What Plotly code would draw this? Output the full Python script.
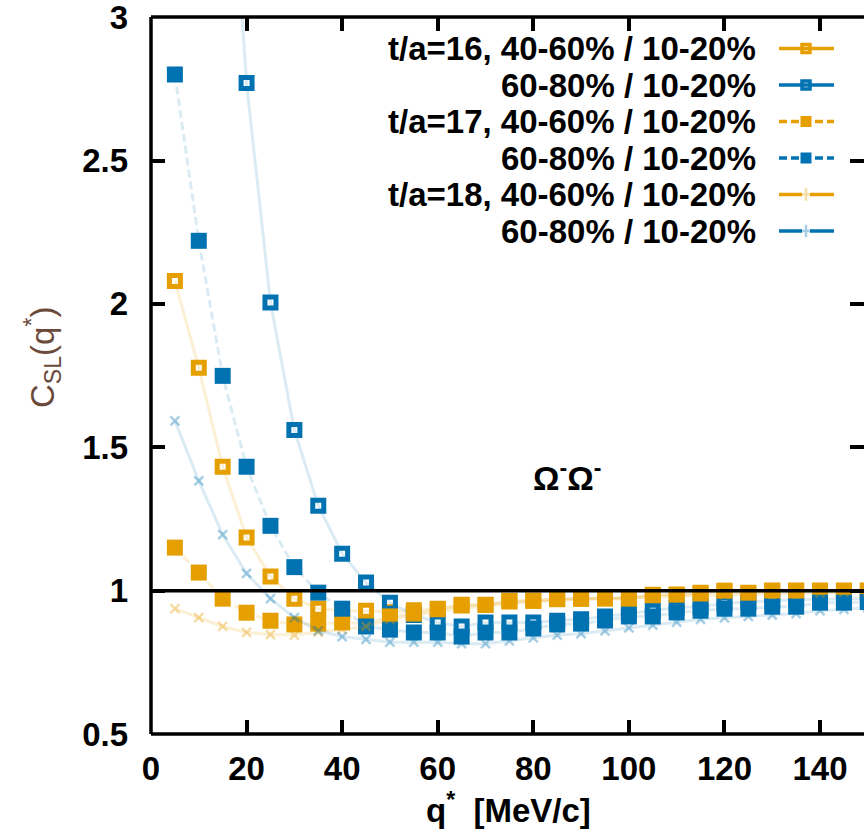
import plotly.graph_objects as go

# q* grid [MeV/c]
q = [5, 10, 15, 20, 25, 30, 35, 40, 45, 50, 55, 60, 65, 70, 75,
     80, 85, 90, 95, 100, 105, 110, 115, 120, 125, 130, 135, 140, 145, 150]

# C_SL(q*) ratios, t/a = 16
t16_4060 = [2.08, 1.777, 1.432, 1.185, 1.049, 0.972, 0.937, 0.930, 0.930, 0.925,
            0.932, 0.937, 0.951, 0.951, 0.965, 0.965, 0.972, 0.972, 0.975, 0.975,
            0.986, 0.986, 0.993, 0.997, 0.993, 1.000, 1.000, 1.000, 1.000, 1.000]
t16_6080 = [10.0, 6.2, 4.0, 2.77, 2.005, 1.56, 1.296, 1.129, 1.028, 0.958,
            0.915, 0.889, 0.875, 0.889, 0.889, 0.889, 0.895, 0.900, 0.910, 0.920,
            0.930, 0.940, 0.945, 0.955, 0.960, 0.965, 0.968, 0.970, 0.972, 0.972]

# t/a = 17
t17_4060 = [1.150, 1.063, 0.972, 0.923, 0.895, 0.882, 0.885, 0.889, 0.885, 0.910,
            0.920, 0.935, 0.948, 0.950, 0.962, 0.965, 0.970, 0.972, 0.972, 0.972,
            0.984, 0.986, 0.990, 1.000, 0.990, 1.000, 1.000, 1.000, 1.000, 1.000]
t17_6080 = [2.80, 2.22, 1.749, 1.432, 1.226, 1.082, 0.993, 0.937, 0.875, 0.864,
            0.854, 0.854, 0.840, 0.854, 0.854, 0.868, 0.882, 0.885, 0.896, 0.910,
            0.910, 0.924, 0.930, 0.937, 0.937, 0.944, 0.944, 0.958, 0.958, 0.960]

# t/a = 18
t18_4060 = [0.937, 0.906, 0.875, 0.854, 0.847, 0.845, 0.855, 0.865, 0.875, 0.900,
            0.915, 0.925, 0.940, 0.945, 0.955, 0.960, 0.965, 0.970, 0.972, 0.975,
            0.978, 0.980, 0.983, 0.985, 0.987, 0.988, 0.990, 0.992, 0.995, 0.995]
t18_6080 = [1.592, 1.383, 1.195, 1.060, 0.972, 0.906, 0.860, 0.840, 0.830, 0.820,
            0.820, 0.820, 0.815, 0.815, 0.825, 0.835, 0.845, 0.850, 0.860, 0.870,
            0.880, 0.890, 0.900, 0.905, 0.910, 0.915, 0.920, 0.930, 0.935, 0.940]

x_ticks = [0, 20, 40, 60, 80, 100, 120, 140]
y_ticks = [0.5, 1, 1.5, 2, 2.5, 3]

legend_labels = ["t/a=16, 40-60% / 10-20%", "60-80% / 10-20%",
                 "t/a=17, 40-60% / 10-20%", "60-80% / 10-20%",
                 "t/a=18, 40-60% / 10-20%", "60-80% / 10-20%"]

ORANGE = "#E69F00"
BLUE = "#0072B2"
PALE_LINE = {"o": "rgba(230,159,0,0.17)", "b": "rgba(0,114,178,0.14)"}
PALE_MARK = {"o": "rgba(230,159,0,0.35)", "b": "rgba(0,114,178,0.35)"}
FONT = "Liberation Sans, Arial, sans-serif"
FS = 33
WEIGHT = "bold"

W, H = 864, 831
ML, MR, MT, MB = 151, 0, 17, 97
PW, PH = W - ML - MR, H - MT - MB
X_MAX = 149.2

fig = go.Figure()


def series(y, col, kind, dash):
    c = ORANGE if col == "o" else BLUE
    line = dict(color=PALE_LINE[col], width=3, dash=dash)
    if kind == "open":
        marker = dict(symbol="square-open", size=11, color=c, line=dict(width=5, color=c))
    elif kind == "filled":
        marker = dict(symbol="square", size=16, color=c, line=dict(width=0))
    else:
        marker = dict(symbol="x-thin", size=9, color=PALE_MARK[col],
                      line=dict(width=2.5, color=PALE_MARK[col]))
    fig.add_trace(go.Scatter(x=q, y=y, mode="lines+markers", line=line,
                             marker=marker, showlegend=False, hoverinfo="skip"))


series(t16_4060, "o", "open", "solid")
series(t16_6080, "b", "open", "solid")
series(t17_4060, "o", "filled", "8px,4px")
series(t17_6080, "b", "filled", "8px,4px")
series(t18_4060, "o", "pale", "solid")
series(t18_6080, "b", "pale", "solid")

# key: pixel-space overlay axes (x2/y2) for the gnuplot-style legend
row_y = [48.5, 85, 121.5, 158, 194.5, 231]
styles = [("o", "open", "solid"), ("b", "open", "solid"),
          ("o", "filled", "8px,4px"), ("b", "filled", "8px,4px"),
          ("o", "pale", "solid"), ("b", "pale", "solid")]
for yy, lab, (col, kind, dash) in zip(row_y, legend_labels, styles):
    c = ORANGE if col == "o" else BLUE
    if kind == "pale":
        lx, ly = [779, 802, None, 810, 834], [yy, yy, None, yy, yy]
    else:
        lx, ly = [779, 834], [yy, yy]
    fig.add_trace(go.Scatter(x=lx, y=ly, xaxis="x2", yaxis="y2", mode="lines",
                             line=dict(color=c, width=3.5, dash=dash),
                             showlegend=False, hoverinfo="skip"))
    if kind == "open":
        mk = dict(symbol="square-open", size=8, color=c, line=dict(width=3.5, color=c))
    elif kind == "filled":
        mk = dict(symbol="square", size=11, color=c, line=dict(width=0))
    else:
        mk = dict(symbol="cross-thin", size=9, color=PALE_MARK[col],
                  line=dict(width=2.5, color=PALE_MARK[col]))
    fig.add_trace(go.Scatter(x=[806], y=[yy], xaxis="x2", yaxis="y2", mode="markers",
                             marker=mk, showlegend=False, hoverinfo="skip"))
    fig.add_annotation(x=758, y=yy, xref="x2", yref="y2", text=lab, showarrow=False,
                       xanchor="right", yanchor="middle",
                       font=dict(family=FONT, size=FS, color="black", weight=WEIGHT))


def px_to_paper(px, py):
    return (px - ML) / PW, (H - MB - py) / PH


# axis titles and the particle-pair label
xt, yt = px_to_paper(508, 808)
fig.add_annotation(x=xt, y=yt, xref="paper", yref="paper",
                   text="q<sup>*</sup>  [MeV/c]", showarrow=False,
                   xanchor="center", yanchor="middle",
                   font=dict(family=FONT, size=FS, color="black", weight=WEIGHT))
xt, yt = px_to_paper(42, 358)
fig.add_annotation(x=xt, y=yt, xref="paper", yref="paper",
                   text="C<sub>SL</sub>(q<sup>*</sup>)", showarrow=False, textangle=-90,
                   xanchor="center", yanchor="middle",
                   font=dict(family=FONT, size=FS, color="#6b4a3c"))
fig.add_annotation(x=567, y=476, xref="x2", yref="y2",
                   text="Ω<sup>-</sup>Ω<sup>-</sup>", showarrow=False,
                   xanchor="center", yanchor="middle",
                   font=dict(family=FONT, size=FS, color="black", weight=WEIGHT))

# frame (left, top, bottom) and the C = 1 reference line
border = dict(color="black", width=3.5)
fig.add_shape(type="line", xref="paper", yref="paper", x0=0, x1=0, y0=0, y1=1,
              line=border, layer="above")
fig.add_shape(type="line", xref="paper", yref="paper", x0=0, x1=1, y0=1, y1=1,
              line=border, layer="above")
fig.add_shape(type="line", xref="paper", yref="paper", x0=0, x1=1, y0=0, y1=0,
              line=border, layer="above")
fig.add_shape(type="line", xref="paper", yref="y", x0=0, x1=1, y0=1, y1=1,
              line=border, layer="above")

tickfont = dict(family=FONT, size=FS, color="black", weight=WEIGHT)
fig.update_layout(
    width=W, height=H,
    margin=dict(l=ML, r=MR, t=MT, b=MB, pad=0),
    paper_bgcolor="white", plot_bgcolor="white",
    showlegend=False,
    xaxis=dict(range=[0, X_MAX], tickvals=x_ticks, ticks="inside", ticklen=14,
               tickwidth=3.5, tickcolor="black", mirror="ticks", showline=False,
               showgrid=False, zeroline=False, tickfont=tickfont,
               ticklabelstandoff=12, ticklabeloverflow="allow"),
    yaxis=dict(range=[0.5, 3.0005], tickvals=y_ticks, ticks="inside", ticklen=14,
               tickwidth=3.5, tickcolor="black", mirror="ticks", showline=False,
               showgrid=False, zeroline=False, tickfont=tickfont,
               ticklabelstandoff=22, ticklabeloverflow="allow"),
    xaxis2=dict(overlaying="x", range=[ML, W - MR], visible=False),
    yaxis2=dict(overlaying="y", range=[H - MB, MT], visible=False),
)

fig.write_html("out.html")
